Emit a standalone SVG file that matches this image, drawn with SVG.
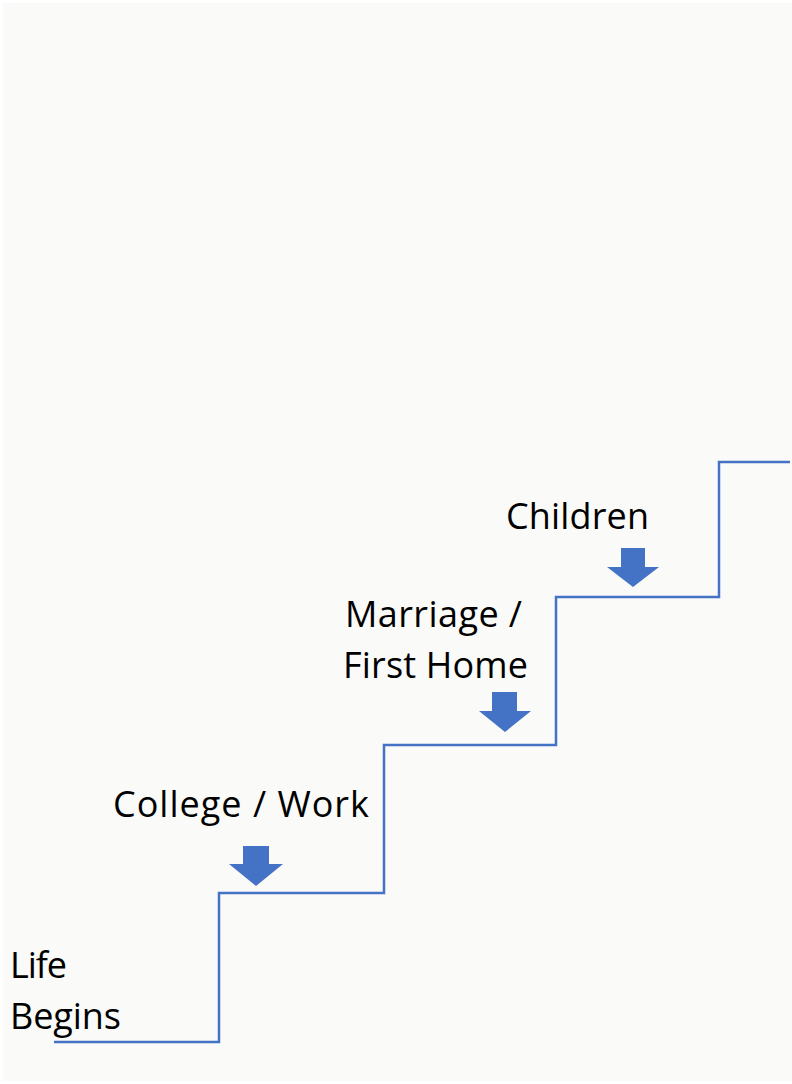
<svg xmlns="http://www.w3.org/2000/svg" width="792" height="1084" viewBox="0 0 792 1084">
<style>
.lbl{font-family:"Open Sans","Liberation Sans",sans-serif;font-size:36px;fill:#000}
.arrow{fill:#4472C4}
.stair{fill:none;stroke:#4472C4;stroke-width:2.5}
</style>
<rect x="0" y="0" width="792" height="1084" fill="#ffffff"/>
<rect x="3" y="3" width="789" height="1078" fill="#FAFAF8"/>
<g id="connectors">
<polyline class="stair" points="54,1042 219,1042 219,893 384,893 384,745 556,745 556,597 719,597 719,462 790,462"/>
</g>
<g id="life-begins">
<text class="lbl" x="10" y="978" textLength="57" lengthAdjust="spacing">Life</text>
<text class="lbl" x="10" y="1029" textLength="111" lengthAdjust="spacing">Begins</text>
</g>
<g id="college-work">
<text class="lbl" x="113" y="817" textLength="256" lengthAdjust="spacing">College / Work</text>
<polygon class="arrow" points="243,846 269,846 269,864 283,864 256,886 229,864 243,864"/>
</g>
<g id="marriage">
<text class="lbl" x="345" y="627" textLength="177" lengthAdjust="spacing">Marriage /</text>
<text class="lbl" x="343" y="678" textLength="185" lengthAdjust="spacing">First Home</text>
<polygon class="arrow" points="492,692 517,692 517,711 531,711 505,732 479,711 492,711"/>
</g>
<g id="children">
<text class="lbl" x="506" y="529" textLength="143" lengthAdjust="spacing">Children</text>
<polygon class="arrow" points="621,548 645,548 645,567 659,567 633,587 607,567 621,567"/>
</g>
</svg>
